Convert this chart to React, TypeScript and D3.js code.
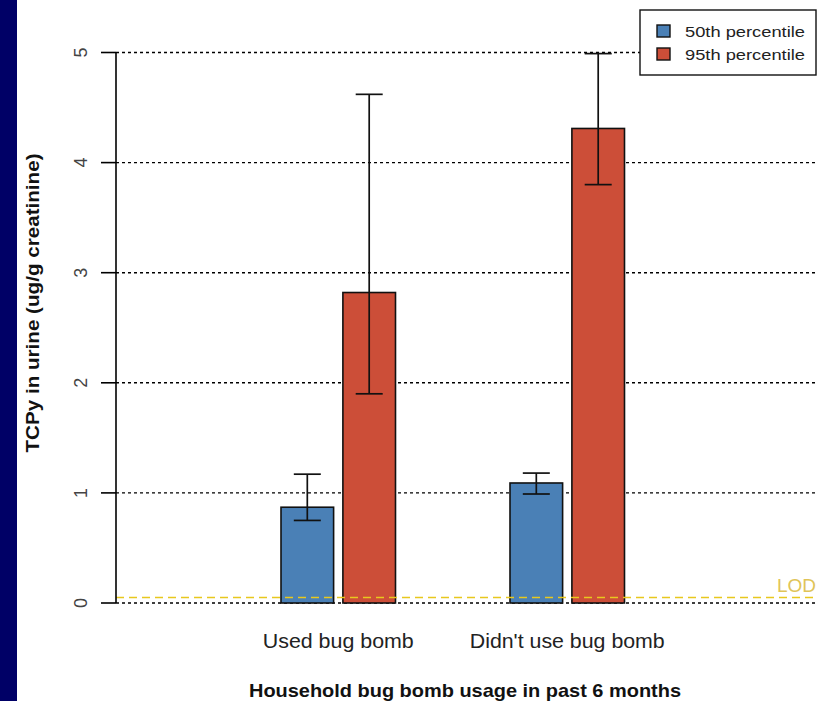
import React from "react";
import * as d3 from "d3";

const groups = ["Used bug bomb", "Didn't use bug bomb"];
const series = ["50th percentile", "95th percentile"];
const values50 = [0.87, 1.09];
const values95 = [2.82, 4.31];
const lower50 = [0.75, 0.99];
const upper50 = [1.17, 1.18];
const lower95 = [1.9, 3.8];
const upper95 = [4.62, 4.99];
const yTicks = [0, 1, 2, 3, 4, 5];
const lodValue = 0.05;
const colors = ["#4A80B6", "#CC4E38"];

const W = 827;
const H = 701;
const FONT = "'Liberation Sans', Arial, sans-serif";

export default function App() {
  const y = d3.scaleLinear().domain([0, 5]).range([603, 52.5]);
  const xGroup = d3
    .scaleBand<string>()
    .domain(groups)
    .range([166.5, 739])
    .paddingInner(0.5)
    .paddingOuter(0.5);
  const xSeries = d3
    .scaleBand<string>()
    .domain(series)
    .range([0, xGroup.bandwidth()])
    .paddingInner(0.15);

  const axisX = 116;
  const gridRight = 815;

  const bars = groups.flatMap((g, gi) =>
    series.map((s, si) => {
      const v = si === 0 ? values50[gi] : values95[gi];
      const lo = si === 0 ? lower50[gi] : lower95[gi];
      const hi = si === 0 ? upper50[gi] : upper95[gi];
      const x0 = (xGroup(g) as number) + (xSeries(s) as number);
      return { g, s, si, v, lo, hi, x0, w: xSeries.bandwidth() };
    })
  );

  return (
    <svg
      width={W}
      height={H}
      style={{ position: "absolute", left: 0, top: 0, display: "block" }}
      fontFamily={FONT}
    >
      <rect x={0} y={0} width={W} height={H} fill="#ffffff" />
      <rect x={0} y={0} width={17} height={H} fill="#000066" />

      {/* gridlines */}
      {yTicks.map((t) => (
        <line
          key={"g" + t}
          x1={axisX}
          x2={gridRight}
          y1={y(t)}
          y2={y(t)}
          stroke="#000"
          strokeWidth={1.4}
          strokeDasharray="3,3"
        />
      ))}

      {/* bars */}
      {bars.map((b, i) => (
        <rect
          key={"b" + i}
          x={b.x0}
          y={y(b.v)}
          width={b.w}
          height={y(0) - y(b.v)}
          fill={colors[b.si]}
          stroke="#111"
          strokeWidth={1.6}
        />
      ))}

      {/* LOD line */}
      <line
        x1={axisX}
        x2={gridRight}
        y1={y(lodValue)}
        y2={y(lodValue)}
        stroke="#E8C81E"
        strokeWidth={1.6}
        strokeDasharray="8,5"
      />
      <text
        x={816}
        y={592}
        textAnchor="end"
        fontSize={19}
        fill="#E0C458"
      >
        LOD
      </text>

      {/* error bars */}
      {bars.map((b, i) => {
        const cx = b.x0 + b.w / 2;
        return (
          <g key={"e" + i} stroke="#111" strokeWidth={1.7}>
            <line x1={cx} x2={cx} y1={y(b.hi)} y2={y(b.lo)} />
            <line x1={cx - 13.5} x2={cx + 13.5} y1={y(b.hi)} y2={y(b.hi)} />
            <line x1={cx - 13.5} x2={cx + 13.5} y1={y(b.lo)} y2={y(b.lo)} />
          </g>
        );
      })}

      {/* y axis */}
      <line x1={axisX} x2={axisX} y1={y(5)} y2={y(0)} stroke="#000" strokeWidth={1.6} />
      {yTicks.map((t) => (
        <g key={"t" + t}>
          <line x1={101} x2={axisX} y1={y(t)} y2={y(t)} stroke="#000" strokeWidth={1.6} />
          <text
            transform={`translate(87,${y(t)}) rotate(-90)`}
            textAnchor="middle"
            fontSize={18}
            fill="#444"
          >
            {t}
          </text>
        </g>
      ))}

      {/* y title */}
      <text
        transform={`translate(39,303) rotate(-90)`}
        textAnchor="middle"
        fontSize={18}
        fontWeight="bold"
        fill="#111"
        textLength={299}
        lengthAdjust="spacingAndGlyphs"
      >
        TCPy in urine (ug/g creatinine)
      </text>

      {/* x labels */}
      {groups.map((g, gi) => (
        <text
          key={"xl" + g}
          x={(xGroup(g) as number) + xGroup.bandwidth() / 2}
          y={648}
          textAnchor="middle"
          fontSize={19.5}
          fill="#222"
          textLength={gi === 0 ? 151 : 195}
          lengthAdjust="spacingAndGlyphs"
        >
          {g}
        </text>
      ))}

      {/* x title */}
      <text
        x={465}
        y={697}
        textAnchor="middle"
        fontSize={18.5}
        fontWeight="bold"
        fill="#111"
        textLength={432}
        lengthAdjust="spacingAndGlyphs"
      >
        Household bug bomb usage in past 6 months
      </text>

      {/* legend */}
      <g>
        <rect x={640} y={10} width={176} height={65} fill="#fff" stroke="#111" strokeWidth={1.4} />
        {series.map((s, si) => (
          <g key={"lg" + s}>
            <rect
              x={657}
              y={25 + si * 23}
              width={13}
              height={12}
              fill={colors[si]}
              stroke="#111"
              strokeWidth={1.4}
            />
            <text
              x={685}
              y={37 + si * 23}
              fontSize={15.5}
              fill="#222"
              textLength={120}
              lengthAdjust="spacingAndGlyphs"
            >
              {s}
            </text>
          </g>
        ))}
      </g>
    </svg>
  );
}
